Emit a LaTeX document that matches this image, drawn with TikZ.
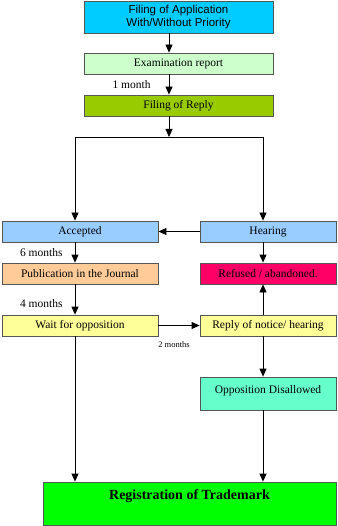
\documentclass[tikz,border=0pt]{standalone}
\usepackage{fontspec}
\setmainfont{Liberation Serif}
\newfontfamily\arialfont{Liberation Sans}
\usetikzlibrary{arrows.meta}
\definecolor{cApp}{RGB}{0,204,255}
\definecolor{cExam}{RGB}{204,255,204}
\definecolor{cReply}{RGB}{153,204,0}
\definecolor{cBlue}{RGB}{153,204,255}
\definecolor{cPub}{RGB}{255,204,153}
\definecolor{cRef}{RGB}{255,0,102}
\definecolor{cYel}{RGB}{255,255,153}
\definecolor{cOpp}{RGB}{102,255,204}
\definecolor{cReg}{RGB}{0,255,0}
\definecolor{cBorder}{RGB}{85,85,85}
\tikzset{
  box/.style={draw=cBorder, line width=0.8pt, inner sep=1pt, align=center,
    font=\fontsize{11.5}{13}\selectfont},
  arr/.style={draw=black, line width=0.8pt, -{Triangle[width=7pt,length=8pt]}},
  conn/.style={draw=black, line width=0.8pt},
  lbl/.style={font=\fontsize{11.5}{13}\selectfont, inner sep=0pt},
  smalllbl/.style={font=\fontsize{8.5}{10}\selectfont, inner sep=0pt}
}
\begin{document}
\begin{tikzpicture}[x=1pt,y=1pt]
\useasboundingbox (0,0) rectangle (337,-526);
% column coordinates
\coordinate (spine) at (169,0);
\coordinate (lcol) at (75,0);
\coordinate (rcol) at (263,0);
% boxes
\node[box, fill=cApp, minimum width=189pt, minimum height=32pt, font=\arialfont\fontsize{11.5}{13}\selectfont] (app) at (178.5,-17) {Filing of Application\\With/Without Priority};
\node[box, fill=cExam, minimum width=189pt, minimum height=21pt] (exam) at (178.5,-63.5) {Examination report};
\node[box, fill=cReply, minimum width=189pt, minimum height=21pt] (reply) at (178.5,-105.5) {Filing of Reply};
\coordinate (split) at (169,-137);
\node[box, fill=cBlue, minimum width=156pt, minimum height=21pt] (acc) at (80,-231.5) {Accepted};
\node[box, fill=cBlue, minimum width=136pt, minimum height=21pt] (hear) at (268,-231.5) {Hearing};
\node[box, fill=cPub, minimum width=156pt, minimum height=21pt] (pub) at (80,-273.5) {Publication in the Journal};
\node[box, fill=cRef, minimum width=136pt, minimum height=21pt] (ref) at (268,-273.5) {Refused / abandoned.};
\node[box, fill=cYel, minimum width=156pt, minimum height=21pt] (wait) at (80,-325.5) {Wait for opposition};
\node[box, fill=cYel, minimum width=136pt, minimum height=21pt] (rnot) at (268,-325.5) {Reply of notice/ hearing};
\node[box, fill=cOpp, minimum width=136pt, minimum height=33pt] (opp) at (268,-393.5) {\raisebox{3pt}[\height][\depth]{Opposition Disallowed}};
\node[box, fill=cReg, minimum width=293pt, minimum height=43pt, font=\bfseries\fontsize{14}{16}\selectfont] (reg) at (189.5,-503.5) {\raisebox{7pt}[\height][\depth]{Registration of Trademark}};
% connectors
\draw[arr] (app.south -| spine) -- (exam.north -| spine);
\draw[arr] (exam.south -| spine) -- node[lbl, anchor=east, xshift=-18pt, pos=0.5] {1 month} (reply.north -| spine);
\draw[arr] (reply.south -| spine) -- (split);
\draw[conn] (split -| lcol) -- (split -| rcol);
\draw[arr] (split -| lcol) -- (acc.north -| lcol);
\draw[arr] (split -| rcol) -- (hear.north -| rcol);
\draw[arr] (hear.west) -- (acc.east);
\draw[arr] (acc.south -| lcol) -- node[lbl, anchor=east, xshift=-12pt, pos=0.5] {6 months} (pub.north -| lcol);
\draw[arr] (hear.south -| rcol) -- (ref.north -| rcol);
\draw[arr] (pub.south -| lcol) -- node[lbl, anchor=east, xshift=-12pt, pos=0.65] {4 months} (wait.north -| lcol);
\draw[arr] (wait.east) -- node[smalllbl, below, yshift=-16pt, xshift=-5pt] {2 months} (rnot.west);
\draw[arr] (rnot.north -| rcol) -- (ref.south -| rcol);
\draw[arr] (rnot.south -| rcol) -- (opp.north -| rcol);
\draw[arr] (opp.south -| rcol) -- (reg.north -| rcol);
\draw[arr] (wait.south -| lcol) -- (reg.north -| lcol);
\end{tikzpicture}
\end{document}
